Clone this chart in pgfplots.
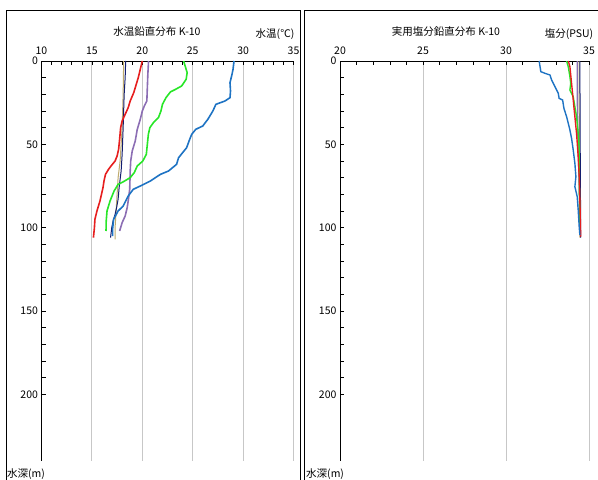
\documentclass[border=0pt]{standalone}
\usepackage{pgfplots}
\pgfplotsset{compat=1.18}
\usepackage{fontspec}
\setmainfont{Noto Sans CJK JP}
\definecolor{cblue}{RGB}{30,115,195}
\definecolor{cred}{RGB}{230,30,30}
\definecolor{cgreen}{RGB}{40,230,40}
\definecolor{cpurple}{RGB}{140,110,180}
\definecolor{cnavy}{RGB}{20,30,110}
\definecolor{ctan}{RGB}{190,170,110}
\pgfplotsset{
  prof/.style={
    scale only axis, anchor=south west, height=400pt,
    ymin=0, ymax=240, y dir=reverse,
    axis x line*=top, axis y line*=left,
    axis line style={-, black, line width=0.8pt},
    minor x tick num=4,
    ytick={0,50,...,200}, minor y tick num=4,
    tick align=inside, major tick length=4pt, minor tick length=4pt,
    tick style={black, line width=0.6pt},
    xmajorgrids, grid style={black!22, line width=0.8pt},
    ticklabel style={font=\fontsize{10.5}{12}\selectfont},
    /pgf/number format/assume math mode=true,
    xticklabel style={yshift=3pt},
    clip=false,
  }
}
\begin{document}
\begin{tikzpicture}
\useasboundingbox (0pt,0pt) rectangle (598pt,480pt);
% frames
\draw[line width=1pt] (6pt,-5pt) -- (6pt,469pt) -- (300pt,469pt) -- (300pt,-5pt);
\draw[line width=1pt] (304pt,-5pt) -- (304pt,469pt) -- (610pt,469pt);
% left: temperature
\begin{axis}[prof, at={(41.5pt,19pt)}, width=252pt, xmin=10, xmax=35, xtick={10,15,...,35}]
\addplot[ctan, line width=1pt] coordinates {(18.15,0) (18.1,20) (18.0,40) (17.8,60) (17.6,70) (17.5,80) (17.4,90) (17.3,100) (17.3,107)};
\addplot[cnavy, line width=1pt] coordinates {(18.35,0) (18.3,10) (18.2,20) (18.1,40) (18.0,56) (17.9,66) (17.7,76) (17.6,83) (17.45,88) (17.3,92) (17.1,96) (16.97,100) (16.85,106)};
\addplot[cpurple, line width=1.6pt] coordinates {(20.62,0) (20.55,8) (20.5,16) (20.45,24) (20.2,27) (20.0,30) (19.8,35) (19.5,41) (19.3,48) (19.0,54) (18.85,60) (18.8,66) (18.75,77) (18.6,84) (18.5,88) (18.3,93) (18.0,97) (17.75,102)};
\addplot[cgreen, line width=1.6pt] coordinates {(24.1,0) (24.25,3) (24.45,7) (24.35,11) (23.9,15) (23.3,17) (22.8,18.5) (22.35,22) (22.0,26) (21.85,30) (21.6,34) (21.1,37) (20.75,40) (20.6,44) (20.5,50) (20.4,56) (20.05,60) (19.5,63) (19.2,67) (18.8,70) (18.1,72.5) (17.6,74) (17.2,78) (16.8,84) (16.5,90) (16.42,96) (16.4,102)};
\addplot[cred, line width=1.6pt] coordinates {(20.0,0) (19.8,5) (19.6,10) (19.45,13) (19.15,19) (18.8,24) (18.6,28) (18.3,32) (18.0,36) (17.85,40) (17.75,47) (17.65,53) (17.5,57) (17.3,60) (16.9,63) (16.65,65) (16.35,68) (16.2,72) (16.1,76) (15.8,84) (15.5,90) (15.3,95) (15.25,100) (15.15,106)};
\addplot[cblue, line width=1.6pt] coordinates {(29.1,0) (29.0,5) (28.9,8) (28.7,13) (28.75,18) (28.7,22) (28.2,24) (27.3,26) (27.0,30) (26.5,35) (26.0,39) (25.3,41) (24.9,44) (24.7,47) (24.4,52) (23.6,58) (23.4,62) (22.6,66) (21.8,68) (20.8,72) (19.8,75) (19.1,77) (18.6,81) (18.1,87) (17.6,90) (17.15,95) (17.05,101) (17.05,105)};
\end{axis}
% right: salinity
\begin{axis}[prof, at={(340pt,19pt)}, width=249pt, xmin=20, xmax=35, xtick={20,25,...,35}]
\addplot[ctan, line width=1pt] coordinates {(34.4,0) (34.42,50) (34.45,106)};
\addplot[cnavy, line width=1pt] coordinates {(34.45,0) (34.47,50) (34.5,106)};
\addplot[cpurple, line width=1.4pt] coordinates {(34.29,0) (34.29,13) (34.31,33) (34.35,53) (34.41,73) (34.45,93) (34.45,102)};
\addplot[cgreen, line width=1.4pt] coordinates {(33.65,0) (33.75,3.4) (33.85,9.4) (33.9,13.4) (33.85,17.4) (34.05,21.4) (34.15,27.4) (34.25,33.4) (34.35,43.4) (34.41,53.4) (34.41,73.4) (34.45,93.4) (34.45,101.4)};
\addplot[cred, line width=1.4pt] coordinates {(33.75,0) (33.85,3.4) (33.95,13.4) (34.05,23.4) (34.15,33.4) (34.25,43.4) (34.35,57.4) (34.41,69.4) (34.45,83.4) (34.5,105.4)};
\addplot[cblue, line width=1.4pt] coordinates {(32.0,0) (32.05,3.4) (32.1,6.4) (32.35,7.4) (32.65,8.4) (32.75,11.4) (32.85,13.4) (33.0,16.4) (33.15,19.4) (33.2,22.4) (33.41,23.4) (33.49,28.4) (33.65,33.4) (33.75,37.4) (33.85,41.4) (33.95,46.4) (34.05,53.4) (34.15,61.4) (34.21,69.4) (34.15,75.4) (34.29,81.4) (34.35,89.4) (34.41,99.4) (34.45,104.4)};
\end{axis}
% titles
\begin{scope}[every node/.style={font=\fontsize{10.5}{12}\selectfont, inner sep=0pt}]
\node at (157pt,448pt) {水温鉛直分布 K-10};
\node at (275pt,446pt) {水温(℃)};
\node[anchor=west] at (7pt,6pt) {水深(m)};
\node at (446pt,448pt) {実用塩分鉛直分布 K-10};
\node at (569pt,446pt) {塩分(PSU)};
\node[anchor=west] at (306pt,6pt) {水深(m)};
\end{scope}
\end{tikzpicture}
\end{document}
